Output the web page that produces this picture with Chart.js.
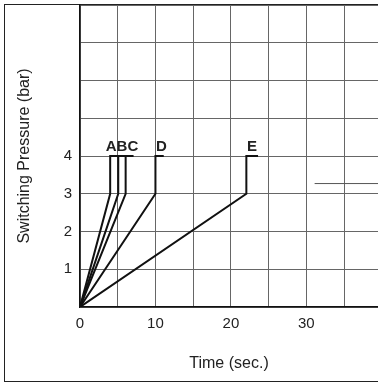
<!DOCTYPE html>
<html>
<head>
<meta charset="utf-8">
<script src="https://cdn.jsdelivr.net/npm/chart.js@4"></script>
<style>
  body { margin: 0; background: #fff; }
  .wrap { position: relative; width: 378px; height: 383px; overflow: hidden; }
  .frame { position: absolute; left: 4px; top: 4px; width: 420px; height: 376px; border: 1.5px solid #222; }
  canvas { position: absolute; left: 0; top: 0; }
</style>
</head>
<body>
<div class="wrap">
  <div class="frame"></div>
  <canvas id="Chart" width="378" height="383"></canvas>
</div>
<script>
// curves A..E: ramp from 0 to 3 bar, then jump to 4 bar
let curveNames = ['A', 'B', 'C', 'D', 'E'];
let rampTime = [4.0, 5.07, 6.05, 10.0, 22.05];
let capEnd = [5.07, 6.05, 7.1, 11.1, 23.6];
let labelX = [4.12, 5.56, 7.0, 10.78, 22.8];
let lowPressure = 3;
let highPressure = 4;

// stray short line on the right
let fragX = [31.1, 39.5];
let fragY = [3.27, 3.27];

let xTicks = [0, 10, 20, 30];
let yTicks = [1, 2, 3, 4];

let datasets = curveNames.map((name, i) => ({
    label: name,
    data: [
        { x: 0, y: 0 },
        { x: rampTime[i], y: lowPressure },
        { x: rampTime[i], y: highPressure },
        { x: capEnd[i], y: highPressure }
    ],
    borderColor: '#111',
    borderWidth: 2,
    pointRadius: 0,
    fill: false,
    tension: 0
}));

datasets.push({
    label: 'fragment',
    data: fragX.map((x, i) => ({ x: x, y: fragY[i] })),
    borderColor: '#555',
    borderWidth: 1,
    pointRadius: 0
});

let letterPlugin = {
    id: 'letters',
    afterDatasetsDraw(chart) {
        let ctx = chart.ctx;
        let xs = chart.scales.x, ys = chart.scales.y;
        ctx.save();
        ctx.font = 'bold 15px "Liberation Sans", Arial, sans-serif';
        ctx.fillStyle = '#222';
        ctx.textAlign = 'center';
        ctx.textBaseline = 'alphabetic';
        curveNames.forEach((name, i) => {
            ctx.fillText(name, xs.getPixelForValue(labelX[i]), ys.getPixelForValue(highPressure) - 5);
        });
        ctx.restore();
    }
};

let ctx = document.getElementById('Chart').getContext('2d');
new Chart(ctx, {
    type: 'line',
    data: { datasets: datasets },
    plugins: [letterPlugin],
    options: {
        responsive: false,
        animation: false,
        layout: { padding: { left: 5, top: 5, right: 0, bottom: 0 } },
        plugins: { legend: { display: false }, tooltip: { enabled: false } },
        scales: {
            x: {
                type: 'linear',
                min: 0,
                max: 39.5,
                ticks: {
                    stepSize: 5,
                    includeBounds: false,
                    padding: 8,
                    color: '#222',
                    font: { family: '"Liberation Sans", Arial, sans-serif', size: 15 },
                    maxRotation: 0,
                    autoSkip: false,
                    callback: v => xTicks.includes(v) ? String(v) : ''
                },
                grid: { color: '#666', lineWidth: 1, drawTicks: false },
                border: { color: '#111', width: 1.5 },
                title: {
                    display: true,
                    text: 'Time (sec.)',
                    color: '#222',
                    font: { family: '"Liberation Sans", Arial, sans-serif', size: 16 },
                    padding: { top: 0, bottom: 10 }
                },
                afterFit: s => { s.height = 76; s.paddingLeft = 0; s.paddingRight = 0; }
            },
            y: {
                type: 'linear',
                min: 0,
                max: 8,
                ticks: {
                    stepSize: 1,
                    padding: 8,
                    color: '#222',
                    font: { family: '"Liberation Sans", Arial, sans-serif', size: 15 },
                    autoSkip: false,
                    callback: v => yTicks.includes(v) ? String(v) : ''
                },
                grid: { color: '#666', lineWidth: 1, drawTicks: false },
                border: { color: '#111', width: 1.5 },
                title: {
                    display: true,
                    text: 'Switching Pressure (bar)',
                    color: '#222',
                    font: { family: '"Liberation Sans", Arial, sans-serif', size: 16 },
                    padding: { top: 10, bottom: 0 }
                },
                afterFit: s => { s.width = 75; s.paddingTop = 0; s.paddingBottom = 0; }
            }
        }
    }
});
</script>
</body>
</html>
